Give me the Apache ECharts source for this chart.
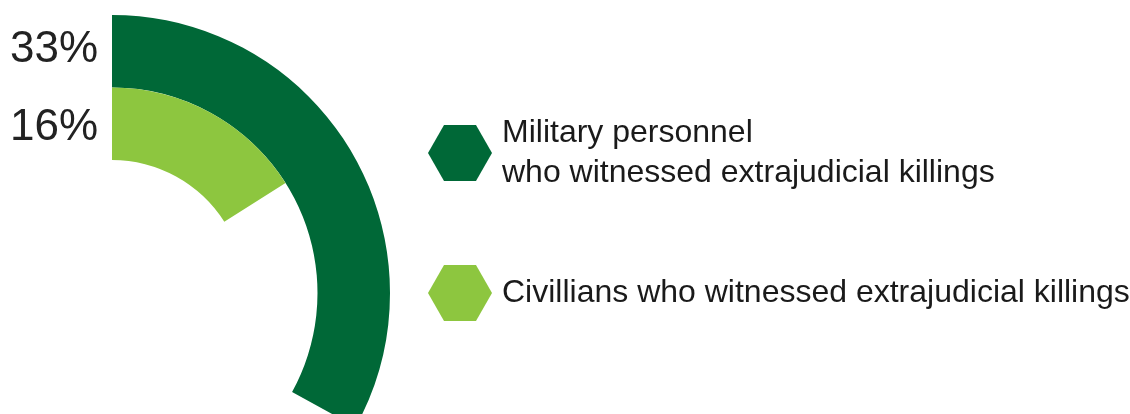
<!DOCTYPE html>
<html>
<head>
<meta charset="utf-8">
<script src="https://cdn.jsdelivr.net/npm/echarts@6/dist/echarts.min.js"></script>
<style>
html,body{margin:0;padding:0;background:#fff;}
#chart{width:1130px;height:414px;}
</style>
</head>
<body>
<div id="chart"></div>
<script>
// Data
var groups = ['Civillians', 'Military'];
var seriesNames = ['Military personnel\nwho witnessed extrajudicial killings', 'Civillians who witnessed extrajudicial killings'];
var militaryValues = [null, 33];
var civilianValues = [16, null];
var pctLabels = ['33%', '16%'];
var colors = ['#006837', '#8dc63f'];

var hexIcon = 'path://M0,28 L16,0 L48,0 L64,28 L48,56 L16,56 Z';
var font = '"Liberation Sans", Arial, Helvetica, sans-serif';

var chart = echarts.init(document.getElementById('chart'), null, {renderer: 'canvas'});
chart.setOption({
  animation: false,
  polar: {center: [112, 293], radius: [133, 278]},
  angleAxis: {type: 'value', min: 0, max: 100, startAngle: 90, clockwise: true, show: false},
  radiusAxis: {type: 'category', data: groups, show: false},
  legend: [
    {
      data: [seriesNames[0]], left: 428, top: 107, padding: 0, orient: 'vertical',
      itemWidth: 64, itemHeight: 56, icon: hexIcon, selectedMode: false,
      textStyle: {fontFamily: font, fontSize: 32, lineHeight: 40, color: '#1a1a1a', padding: [0, 0, 12, 5]}
    },
    {
      data: [seriesNames[1]], left: 428, top: 265, padding: 0, orient: 'vertical',
      itemWidth: 64, itemHeight: 56, icon: hexIcon, selectedMode: false,
      textStyle: {fontFamily: font, fontSize: 32, lineHeight: 40, color: '#1a1a1a', padding: [0, 0, 4, 5]}
    }
  ],
  graphic: pctLabels.map(function (t, i) {
    return {
      type: 'text', right: 1130 - 98, top: [28, 106][i], silent: true,
      style: {text: t, font: '44px ' + font, fill: '#222'}
    };
  }),
  series: [
    {
      name: seriesNames[0], type: 'bar', coordinateSystem: 'polar', data: militaryValues,
      barCategoryGap: '0%', barGap: '-100%', itemStyle: {color: colors[0]}, silent: true
    },
    {
      name: seriesNames[1], type: 'bar', coordinateSystem: 'polar', data: civilianValues,
      barCategoryGap: '0%', barGap: '-100%', itemStyle: {color: colors[1]}, silent: true
    }
  ]
});
</script>
</body>
</html>
